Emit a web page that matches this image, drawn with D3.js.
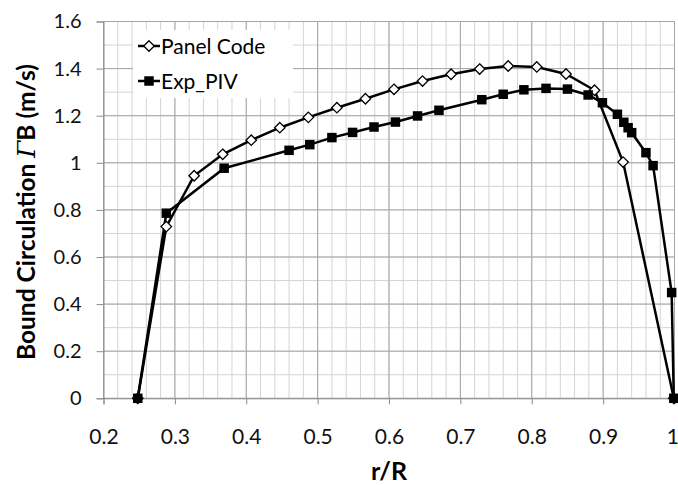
<!DOCTYPE html>
<html>
<head>
<meta charset="utf-8">
<script src="https://cdn.jsdelivr.net/npm/d3@7"></script>
<style>
  body { margin: 0; background: #fff; }
  svg { font-family: Lato, "Open Sans", sans-serif; }
</style>
</head>
<body>
<svg id="chart" width="678" height="485"></svg>
<script>
var panelX = [0.248, 0.288, 0.327, 0.367, 0.407, 0.447, 0.487, 0.527, 0.567, 0.607, 0.647, 0.687, 0.727, 0.767, 0.807, 0.848, 0.888, 0.928, 0.999];
var panelY = [0, 0.729, 0.945, 1.036, 1.096, 1.149, 1.193, 1.234, 1.272, 1.312, 1.347, 1.376, 1.398, 1.411, 1.407, 1.377, 1.308, 1.003, 0];

var pivX = [0.248, 0.288, 0.369, 0.460, 0.489, 0.520, 0.549, 0.579, 0.609, 0.640, 0.670, 0.730, 0.760, 0.789, 0.820, 0.850, 0.879, 0.899, 0.920, 0.929, 0.935, 0.940, 0.960, 0.970, 0.996, 0.999];
var pivY = [0, 0.786, 0.977, 1.053, 1.077, 1.107, 1.129, 1.152, 1.173, 1.199, 1.223, 1.268, 1.291, 1.310, 1.316, 1.313, 1.288, 1.255, 1.206, 1.172, 1.149, 1.128, 1.043, 0.988, 0.449, 0];

var xTicks = [0.2, 0.3, 0.4, 0.5, 0.6, 0.7, 0.8, 0.9, 1];
var yTicks = [0, 0.2, 0.4, 0.6, 0.8, 1, 1.2, 1.4, 1.6];
var seriesNames = ["Panel Code", "Exp_PIV"];

(function() {
  var svg = d3.select("#chart");

  var x = d3.scaleLinear().domain([0.2, 1]).range([103.5, 674.5]);
  var y = d3.scaleLinear().domain([0, 1.6]).range([398.3, 21.5]);

  var grid = svg.append("g");

  // minor grid
  grid.selectAll(".vminor")
      .data(d3.range(0.2, 1.0001, 0.02))
    .enter().append("line")
      .attr("x1", function(d) { return x(d); })
      .attr("x2", function(d) { return x(d); })
      .attr("y1", y(0)).attr("y2", y(1.6))
      .attr("stroke", "#d4d4d4").attr("stroke-width", 1);

  grid.selectAll(".hminor")
      .data(d3.range(0, 1.6001, 0.1))
    .enter().append("line")
      .attr("y1", function(d) { return y(d); })
      .attr("y2", function(d) { return y(d); })
      .attr("x1", x(0.2)).attr("x2", x(1))
      .attr("stroke", "#d4d4d4").attr("stroke-width", 1);

  // major grid
  grid.selectAll(".vmajor")
      .data(xTicks)
    .enter().append("line")
      .attr("x1", function(d) { return x(d); })
      .attr("x2", function(d) { return x(d); })
      .attr("y1", y(0)).attr("y2", y(1.6))
      .attr("stroke", "#a6a6a6").attr("stroke-width", 1);

  grid.selectAll(".hmajor")
      .data(yTicks)
    .enter().append("line")
      .attr("y1", function(d) { return y(d); })
      .attr("y2", function(d) { return y(d); })
      .attr("x1", x(0.2)).attr("x2", x(1))
      .attr("stroke", "#a6a6a6").attr("stroke-width", 1);

  // axes
  var xAxis = svg.append("g")
      .attr("transform", "translate(0," + y(0) + ")")
      .call(d3.axisBottom(x).tickValues(xTicks).tickSize(6).tickPadding(25)
        .tickFormat(function(d) { return d === 1 ? "1" : d3.format(".1f")(d); }));
  var yAxis = svg.append("g")
      .attr("transform", "translate(" + x(0.2) + ",0)")
      .call(d3.axisLeft(y).tickValues(yTicks).tickSize(7).tickPadding(15)
        .tickFormat(function(d) { return d === 0 || d === 1 ? String(d) : d3.format(".1f")(d); }));

  [xAxis, yAxis].forEach(function(a) {
    a.select(".domain").attr("stroke", "#8c8c8c");
    a.selectAll(".tick line").attr("stroke", "#8c8c8c");
    a.selectAll("text").attr("font-family", "Lato, sans-serif").attr("fill", "#111");
  });
  xAxis.selectAll("text").attr("font-size", 21);
  yAxis.selectAll("text").attr("font-size", 20);
  // keep the last label inside the picture
  xAxis.selectAll(".tick text").filter(function(d) { return d === 1; })
      .attr("text-anchor", "end").attr("dx", 4);

  // axis titles
  svg.append("text")
      .attr("x", x(0.6)).attr("y", 480)
      .attr("text-anchor", "middle")
      .attr("font-size", 25).attr("font-weight", "bold")
      .text("r/R");

  var yt = svg.append("text")
      .attr("transform", "translate(35,212) rotate(-90)")
      .attr("text-anchor", "middle")
      .attr("font-size", 24.5).attr("font-weight", "bold");
  yt.append("tspan").text("Bound Circulation ");
  yt.append("tspan").attr("font-family", "'DejaVu Serif', serif")
      .attr("font-style", "italic").attr("font-weight", "normal").text("\u0393");
  yt.append("tspan").text("B (m/s)");

  // lines
  var panel = panelX.map(function(d, i) { return [d, panelY[i]]; });
  var piv = pivX.map(function(d, i) { return [d, pivY[i]]; });

  var line = d3.line()
      .x(function(d) { return x(d[0]); })
      .y(function(d) { return y(d[1]); });

  svg.append("path").datum(panel)
      .attr("d", line).attr("fill", "none")
      .attr("stroke", "#000").attr("stroke-width", 2.5);
  svg.append("path").datum(piv)
      .attr("d", line).attr("fill", "none")
      .attr("stroke", "#000").attr("stroke-width", 2.5);

  var diamond = d3.symbol().type(d3.symbolDiamond2).size(70);
  var square = d3.symbol().type(d3.symbolSquare).size(90);

  svg.selectAll(".pc")
      .data(panel)
    .enter().append("path")
      .attr("transform", function(d) { return "translate(" + x(d[0]) + "," + y(d[1]) + ")"; })
      .attr("d", diamond)
      .attr("fill", "#fff").attr("stroke", "#000").attr("stroke-width", 1.3);

  svg.selectAll(".pv")
      .data(piv)
    .enter().append("path")
      .attr("transform", function(d) { return "translate(" + x(d[0]) + "," + y(d[1]) + ")"; })
      .attr("d", square)
      .attr("fill", "#000");

  // legend
  var lg = svg.append("g");
  lg.append("rect")
      .attr("x", 133).attr("y", 30).attr("width", 160).attr("height", 68)
      .attr("fill", "#fff");

  var rows = lg.selectAll(".legend-label")
      .data(seriesNames)
    .enter().append("g")
      .attr("transform", function(d, i) { return "translate(0," + (46 + i * 35) + ")"; });

  rows.append("line")
      .attr("x1", 138).attr("x2", 160)
      .attr("stroke", "#000").attr("stroke-width", 2.5);

  rows.append("path")
      .attr("transform", "translate(149,0)")
      .attr("d", function(d, i) { return i === 0 ? diamond() : square(); })
      .attr("fill", function(d, i) { return i === 0 ? "#fff" : "#000"; })
      .attr("stroke", "#000").attr("stroke-width", function(d, i) { return i === 0 ? 1.3 : 0; });

  rows.append("text")
      .attr("x", 161).attr("dy", "0.36em")
      .attr("font-size", 21)
      .text(function(d) { return d; });
})();
</script>
</body>
</html>
